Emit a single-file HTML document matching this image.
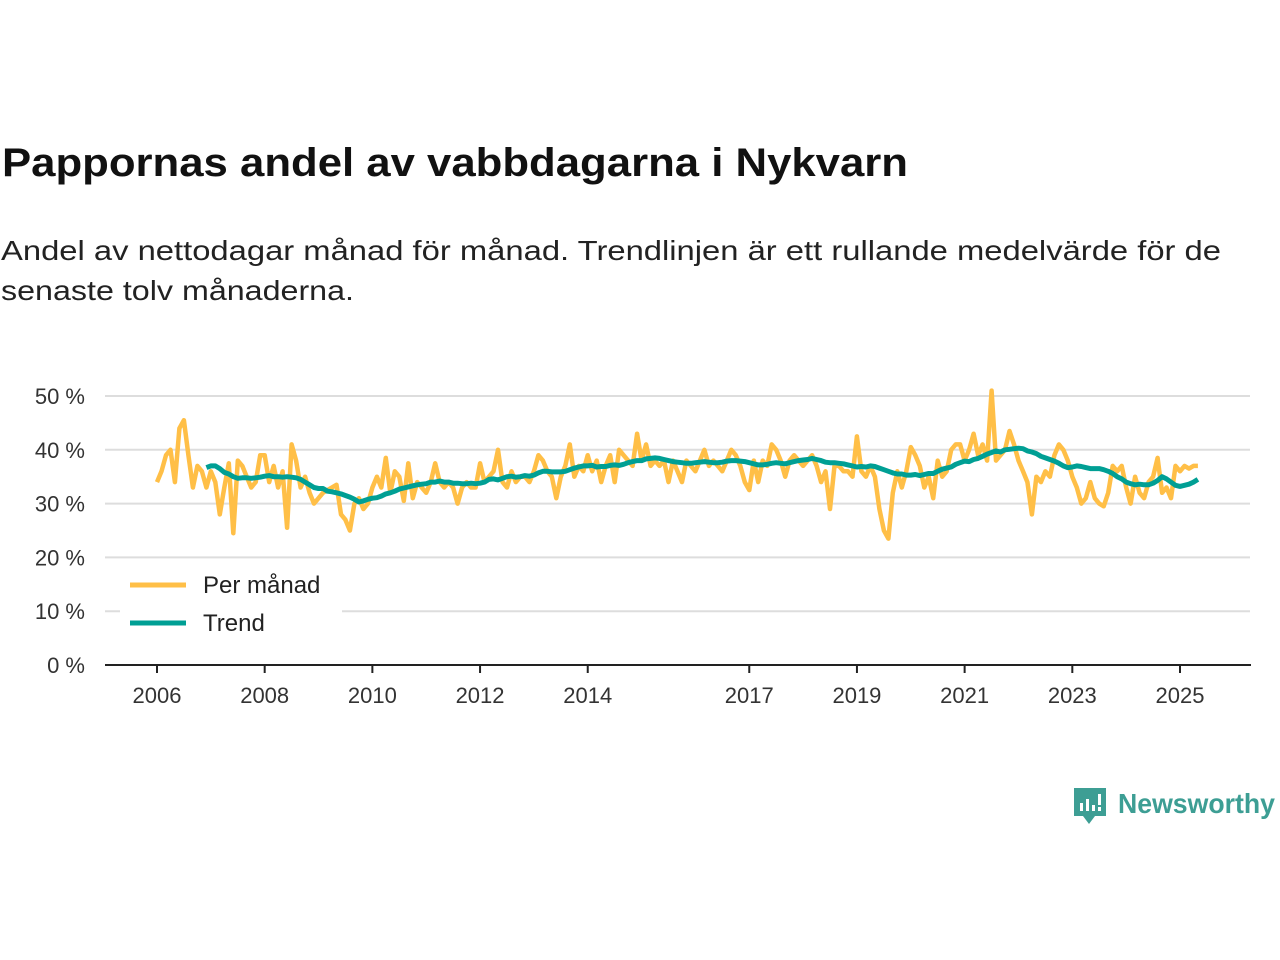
<!DOCTYPE html>
<html><head><meta charset="utf-8"><style>
body{margin:0;background:#fff;}
svg{display:block;font-family:"Liberation Sans",sans-serif;}
</style></head><body>
<svg id="chart" width="1280" height="960">
<text x="2" y="176" font-size="40" font-weight="bold" fill="#111" textLength="906" lengthAdjust="spacingAndGlyphs">Pappornas andel av vabbdagarna i Nykvarn</text>
<text x="1" y="260" font-size="28" fill="#222" textLength="1220" lengthAdjust="spacingAndGlyphs">Andel av nettodagar månad för månad. Trendlinjen är ett rullande medelvärde för de</text>
<text x="1" y="300" font-size="28" fill="#222" textLength="353" lengthAdjust="spacingAndGlyphs">senaste tolv månaderna.</text>
<g id="grid"></g><g id="xaxis"></g><g id="series"></g>
<g>
<rect x="120" y="565" width="222" height="80" fill="#fff"/>
<line x1="130" y1="585" x2="186" y2="585" stroke="#ffbf47" stroke-width="5"/>
<text x="203" y="593" font-size="24" fill="#222">Per månad</text>
<line x1="130" y1="623" x2="186" y2="623" stroke="#009f94" stroke-width="5"/>
<text x="203" y="631" font-size="24" fill="#222">Trend</text>
</g>
<g>
<path d="M1074 788h32v28h-11l-6 8-6-8h-9z" fill="#3d9e94"/>
<rect x="1080" y="803" width="3" height="8" fill="#fff"/><rect x="1086" y="799" width="3" height="12" fill="#fff"/><rect x="1092" y="805" width="3" height="6" fill="#fff"/><rect x="1098" y="794" width="3" height="11" fill="#fff"/><rect x="1098" y="807" width="3" height="4" fill="#fff"/>
<text x="1118" y="813" font-size="28" font-weight="bold" fill="#3d9e94" textLength="157" lengthAdjust="spacingAndGlyphs">Newsworthy</text>
</g>
</svg>
<script>
const yTicks=[0,10,20,30,40,50];
const xTickYears=[2006,2008,2010,2012,2014,2017,2019,2021,2023,2025];
const startYear=2006;
const monthly=[34,36,39,40,34,44,45.5,39,33,37,36,33,
36,34,28,33,37.5,24.5,38,37,35,33,34,39,
39,34,37,33,36,25.5,41,38,33,35,32,30,
31,32,32.5,33,33.5,28,27,25,30,31,29,30,
33,35,33,38.5,32,36,35,30.5,37.5,31,34,33,
32,34,37.5,34,33,34,33,30,33,34,33,33,
37.5,34,35,36,40,34,33,36,34,35,35,34,
36,39,38,36,35,31,35,37,41,35,37,36,
39,36,38,34,37,39,34,40,39,38,37,43,
38,41,37,38,37,38,34,38,36,34,38,37,
36,38,40,37,38,37,36,38,40,39,37,34,
32.5,38,34,38,37,41,40,38,35,38,39,38,
37,38,39,37,34,36,29,37,37,36,36,35,
42.5,36,35,37,35,29,25,23.5,32,36,33,36,
40.5,39,37,33,35,31,38,35,36,40,41,41,
38,40,43,39,41,38,51,38,39,40,43.5,41,
38,36,34,28,35,34,36,35,39,41,40,38,
35,33,30,31,34,31,30,29.5,32,37,36,37,
33,30,35,32,31,34,35,38.5,32,33,31,37,
36,37,36.5,37,37];
const trendStart=11;
const trend=[36.7,
37,37,36.5,35.8,35.5,35,34.7,34.8,34.8,34.7,34.8,34.9,
35.1,35.2,35,35,34.9,35,34.9,34.8,34.5,34,33.5,33,
32.8,32.8,32.3,32.2,32,31.8,31.5,31.2,30.8,30.3,30.5,30.8,
31,31.1,31.4,31.8,32,32.3,32.7,32.9,33.1,33.3,33.5,33.6,
33.7,34,34,34.2,34,34,33.8,33.8,33.7,33.7,33.8,33.7,
33.8,34,34.5,34.6,34.4,34.7,35,35.1,34.9,35,35.2,35.1,
35.3,35.7,36,36,35.9,35.9,35.9,36,36.3,36.6,36.8,37,
37,37.1,36.8,36.9,36.9,37.1,37.2,37.1,37.3,37.6,37.8,38,
38,38.3,38.4,38.5,38.4,38.2,38,37.8,37.7,37.6,37.5,37.5,
37.6,37.7,37.8,37.7,37.6,37.6,37.7,37.9,38,38,37.9,37.8,
37.6,37.4,37.2,37.2,37.3,37.5,37.6,37.5,37.4,37.6,37.8,38,
38.1,38.2,38.4,38.2,38,37.7,37.6,37.6,37.5,37.4,37.2,37,
36.8,36.9,36.8,37,36.9,36.6,36.3,36,35.7,35.5,35.5,35.3,
35.3,35.4,35.2,35.4,35.6,35.6,36,36.4,36.6,36.8,37.3,37.6,
37.9,37.8,38.2,38.4,38.8,39.2,39.5,39.8,39.6,40,40.1,40.2,
40.3,40.2,39.8,39.6,39.3,38.8,38.5,38.2,37.9,37.5,37,36.7,
36.8,37,36.9,36.7,36.5,36.5,36.5,36.3,36,35.6,35,34.6,
34,33.7,33.5,33.6,33.5,33.5,33.8,34.3,35,34.6,34,33.4,
33.2,33.4,33.6,34,34.5];
const NS='http://www.w3.org/2000/svg';
const X0=157,PX_YEAR=(1180-157)/19;
function xScale(monthIndex){return X0+monthIndex/12*PX_YEAR;}
function yScale(v){return 665-v*5.38;}
function mk(tag,attrs,parent){const e=document.createElementNS(NS,tag);for(const k in attrs)e.setAttribute(k,attrs[k]);parent.appendChild(e);return e;}
const grid=document.getElementById('grid');
yTicks.forEach(t=>{
  if(t>0){const l=mk('line',{x1:105,x2:1250,y1:yScale(t),y2:yScale(t),stroke:'#ddd','stroke-width':2},grid);
  
  }
  const tx=mk('text',{x:85,y:yScale(t)+8,'font-size':22,fill:'#333','text-anchor':'end'},grid);
  tx.textContent=t+' %';
  
  
});
const xa=document.getElementById('xaxis');
const base=mk('line',{x1:105,x2:1251,y1:665,y2:665,stroke:'#222','stroke-width':2},xa);


xTickYears.forEach(yr=>{
  const x=xScale((yr-startYear)*12);
  const tk=mk('line',{x1:x,x2:x,y1:665,y2:673,stroke:'#222','stroke-width':2},xa);
  
  
  const tx=mk('text',{x:x,y:703,'font-size':22,fill:'#333','text-anchor':'middle'},xa);
  tx.textContent=yr;
  
  
});
const s=document.getElementById('series');
const pm=mk('path',{d:monthly.map((v,i)=>(i?'L':'M')+xScale(i).toFixed(1)+' '+yScale(v).toFixed(1)).join(''),fill:'none',stroke:'#ffbf47','stroke-width':4.5,'stroke-linejoin':'round'},s);


const pt=mk('path',{d:trend.map((v,i)=>(i?'L':'M')+xScale(i+trendStart).toFixed(1)+' '+yScale(v).toFixed(1)).join(''),fill:'none',stroke:'#009f94','stroke-width':5,'stroke-linejoin':'round'},s);


</script>
</body></html>
